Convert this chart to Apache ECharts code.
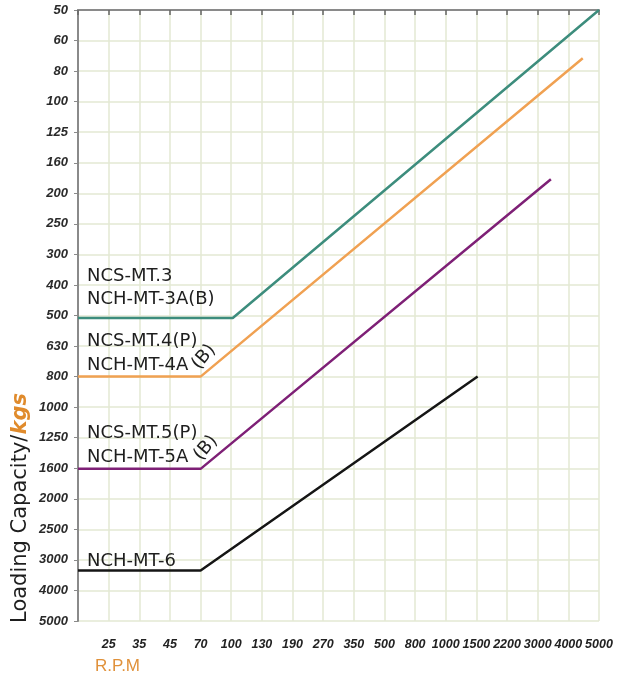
<!DOCTYPE html>
<html>
<head>
<meta charset="utf-8">
<script src="https://cdn.jsdelivr.net/npm/echarts@6/dist/echarts.min.js"></script>
<style>
  html, body { margin: 0; padding: 0; background: #fff; }
  #chart { width: 629px; height: 674px; }
</style>
</head>
<body>
<div id="chart"></div>
<script>
// tick labels (axes are evenly spaced, one step per label)
const rpmTicks = ['', '25', '35', '45', '70', '100', '130', '190', '270', '350', '500', '800', '1000', '1500', '2200', '3000', '4000', '5000']
const kgsTicks = ['50', '60', '80', '100', '125', '160', '200', '250', '300', '400', '500', '630', '800', '1000', '1250', '1600', '2000', '2500', '3000', '4000', '5000']

// curves, as [rpm step, kgs step]
const mt3 = [[0, 10.08], [5.05, 10.08], [17, 0]]
const mt4 = [[0, 12], [4, 12], [16.47, 1.58]]
const mt5 = [[0, 15.02], [4, 15.02], [15.43, 5.54]]
const mt6 = [[0, 18.35], [4, 18.35], [13.04, 12]]

const colors = ['#3d8d7d', '#f0a152', '#7e2076', '#151515']
const gridColor = '#e3e8d3'
const labelFont = 'DejaVu Sans'

const chart = echarts.init(document.getElementById('chart'))

function line(name, data, color) {
  return {
    name: name,
    type: 'line',
    data: data,
    symbol: 'none',
    lineStyle: { color: color, width: 2.5 },
    silent: true,
    animation: false
  }
}

function txt(text, x, y, rot) {
  return {
    type: 'text',
    z: 100,
    x: x,
    y: y,
    rotation: rot || 0,
    style: {
      text: text,
      fill: '#1e1e1e',
      fontSize: 18,
      fontFamily: labelFont,
      align: rot ? 'center' : 'left',
      verticalAlign: 'middle'
    }
  }
}

const tilt = Math.PI * 50 / 180

chart.setOption({
  backgroundColor: '#fff',
  grid: { left: 78, top: 10, right: 30, bottom: 53 },
  xAxis: {
    type: 'value',
    min: 0,
    max: 17,
    interval: 1,
    axisLine: { show: true, lineStyle: { color: '#8a8a8a', width: 2 } },
    axisTick: { show: true, length: 5, lineStyle: { color: '#666', width: 1.5 } },
    axisLabel: {
      margin: 17,
      color: '#222',
      fontSize: 12.5,
      fontStyle: 'italic',
      fontWeight: 'bold',
      fontFamily: 'Liberation Sans',
      showMaxLabel: true,
      hideOverlap: false,
      formatter: v => rpmTicks[v] || ''
    },
    splitLine: { show: true, lineStyle: { color: gridColor, width: 1.5 } }
  },
  yAxis: {
    type: 'value',
    inverse: true,
    min: 0,
    max: 20,
    interval: 1,
    axisLine: { show: true, lineStyle: { color: '#8a8a8a', width: 2 } },
    axisTick: { show: true, length: 4, lineStyle: { color: '#8a8a8a' } },
    axisLabel: {
      margin: 10,
      padding: [5, 0, 0, 0],
      color: '#2a2a2a',
      fontSize: 13,
      fontStyle: 'italic',
      fontWeight: 'bold',
      fontFamily: 'Liberation Sans',
      formatter: v => kgsTicks[v] || ''
    },
    splitLine: { show: true, lineStyle: { color: gridColor, width: 1.5 } }
  },
  series: [
    line('NCS-MT.3', mt3, colors[0]),
    line('NCS-MT.4(P)', mt4, colors[1]),
    line('NCS-MT.5(P)', mt5, colors[2]),
    line('NCH-MT-6', mt6, colors[3])
  ],
  graphic: [
    txt('NCS-MT.3', 87, 276),
    txt('NCH-MT-3A(B)', 87, 299),
    txt('NCS-MT.4(P)', 87, 341),
    txt('NCH-MT-4A', 87, 365),
    txt('(B)', 204, 357, tilt),
    txt('NCS-MT.5(P)', 87, 433),
    txt('NCH-MT-5A', 87, 457),
    txt('(B)', 206, 448, tilt),
    txt('NCH-MT-6', 87, 561),
    {
      type: 'text',
      z: 100,
      x: 21,
      y: 508,
      rotation: Math.PI / 2,
      style: {
        text: '{a|Loading Capacity/}{b|kgs}',
        align: 'center',
        verticalAlign: 'middle',
        rich: {
          a: { fontSize: 21, fontFamily: 'DejaVu Sans', fill: '#1e1e1e', color: '#1e1e1e' },
          b: { fontSize: 21, fontFamily: 'DejaVu Sans', fontWeight: 'bold', fontStyle: 'italic', fill: '#e08b2c', color: '#e08b2c' }
        }
      }
    },
    {
      type: 'text',
      z: 100,
      x: 95,
      y: 666,
      style: {
        text: 'R.P.M',
        fill: '#e0913a',
        fontSize: 17,
        fontFamily: 'Liberation Sans',
        align: 'left',
        verticalAlign: 'middle'
      }
    }
  ]
})
</script>
</body>
</html>
